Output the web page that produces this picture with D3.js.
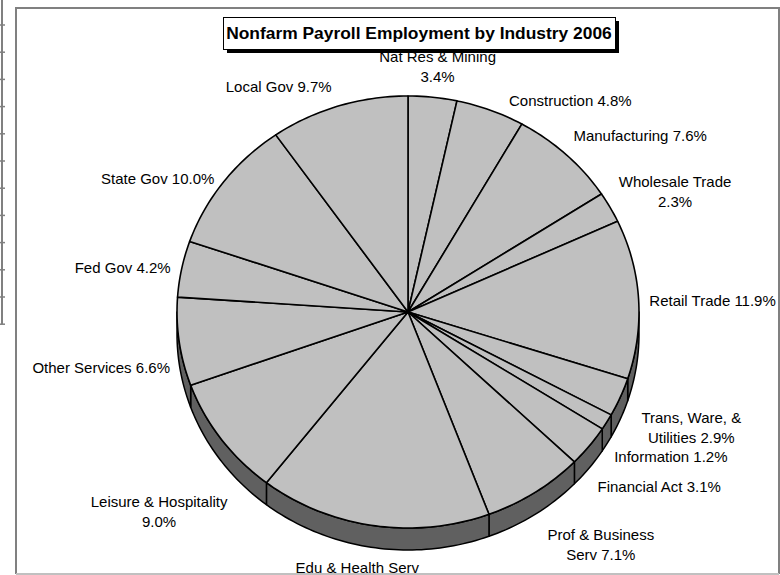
<!DOCTYPE html>
<html>
<head>
<meta charset="utf-8">
<script src="https://d3js.org/d3.v7.min.js"></script>
<style>
  body {margin: 0; background: #fff;}
  text {font-family: Arial, "Liberation Sans", sans-serif;}
</style>
</head>
<body>
<script>
var categories = ["Nat Res & Mining", "Construction", "Manufacturing", "Wholesale Trade", "Retail Trade",
  "Trans, Ware, & Utilities", "Information", "Financial Act", "Prof & Business Serv", "Edu & Health Serv",
  "Leisure & Hospitality", "Other Services", "Fed Gov", "State Gov", "Local Gov"];
var shares = [3.4, 4.8, 7.6, 2.3, 11.9, 2.9, 1.2, 3.1, 7.1, 16.2, 9.0, 6.6, 4.2, 10.0, 9.7];
var title = "Nonfarm Payroll Employment by Industry 2006";

// hand moved labels (offset from the slice edge), same as in the excel sheet
var labelNudge = [[5, -30], [80, -9], [74, -18], [65, -15], [74, 2], [71, 9], [64, 14], [70, 20],
  [66, 31], [-16, 31], [-62, 52], [-78, 5], [-59, 0], [-66, -2], [-60, -18]];

var width = 780, height = 575;
var cx = 408, cy = 312, rx = 231, ry = 216, depth = 22;
var fontSize = 15, lineH = 20, wrapW = 139.5;

var svg = d3.select("body").append("svg")
  .attr("width", width)
  .attr("height", height);

// spreadsheet row lines on the left
svg.append("line").attr("x1", 2).attr("x2", 2).attr("y1", 0).attr("y2", 324)
  .attr("stroke", "#808080").attr("stroke-width", 2);
svg.selectAll(".row").data(d3.range(12)).enter().append("line")
  .attr("class", "row")
  .attr("x1", 0).attr("x2", 5)
  .attr("y1", function(k) {return 25 + 27.2 * k;})
  .attr("y2", function(k) {return 25 + 27.2 * k;})
  .attr("stroke", "#808080").attr("stroke-width", 1.5);

// chart area border
svg.append("path").attr("d", "M16,574V8H779V574")
  .attr("fill", "none").attr("stroke", "#808080").attr("stroke-width", 2);
svg.append("line").attr("x1", 16).attr("x2", 779).attr("y1", 574).attr("y2", 574)
  .attr("stroke", "#c0c0c0").attr("stroke-width", 2);

var pie = d3.pie().sort(null).value(function(d) {return d;});
var arcs = pie(shares);
var total = d3.sum(shares);
var pct = d3.format(".1%");

function pt(a, dy) {
  return [cx + rx * Math.sin(a), cy - ry * Math.cos(a) + (dy || 0)];
}
function arcPts(a0, a1, dy) {
  var n = Math.max(2, Math.ceil((a1 - a0) / 0.02));
  return d3.range(n + 1).map(function(i) {return pt(a0 + (a1 - a0) * i / n, dy);});
}
var line = d3.line();

// side walls (only the front half shows)
arcs.forEach(function(d) {
  var s = Math.max(d.startAngle, Math.PI / 2),
      e = Math.min(d.endAngle, Math.PI * 3 / 2);
  if (e <= s) return;
  var pts = arcPts(s, e, 0).concat(arcPts(s, e, depth).reverse());
  svg.append("path")
    .attr("d", line(pts) + "Z")
    .attr("fill", "#606060")
    .attr("stroke", "#000")
    .attr("stroke-width", 1.5)
    .attr("stroke-linejoin", "round");
});

// top faces
svg.selectAll(".slice").data(arcs).enter().append("path")
  .attr("class", "slice")
  .attr("d", function(d) {
    return line([[cx, cy]].concat(arcPts(d.startAngle, d.endAngle, 0))) + "Z";
  })
  .attr("fill", "#c0c0c0")
  .attr("stroke", "#000")
  .attr("stroke-width", 1.6)
  .attr("stroke-linejoin", "round");

// labels
arcs.forEach(function(d, i) {
  var mid = (d.startAngle + d.endAngle) / 2;
  var p = pt(mid, Math.cos(mid) < 0 ? depth : 0);
  var x = p[0] + labelNudge[i][0], y = p[1] + labelNudge[i][1];
  var words = (categories[i] + " " + pct(shares[i] / total)).split(" ");

  var t = svg.append("text")
    .attr("text-anchor", "middle")
    .attr("font-size", fontSize)
    .attr("fill", "#000");
  // wrap like excel does
  var lines = [], cur = [];
  var probe = t.append("tspan");
  words.forEach(function(w) {
    var test = cur.concat([w]).join(" ");
    probe.text(test);
    if (cur.length && probe.node().getComputedTextLength() > wrapW) {
      lines.push(cur.join(" "));
      cur = [w];
    } else {
      cur.push(w);
    }
  });
  lines.push(cur.join(" "));
  probe.remove();

  var y0 = y - (lines.length - 1) * lineH / 2 + 4.5;
  lines.forEach(function(l, j) {
    t.append("tspan").attr("x", x).attr("y", y0 + j * lineH).text(l);
  });
});

// title box with shadow
svg.append("rect").attr("x", 227).attr("y", 21).attr("width", 392).attr("height", 32)
  .attr("fill", "#000");
svg.append("rect").attr("x", 223.5).attr("y", 17.5).attr("width", 392).attr("height", 32)
  .attr("fill", "#fff").attr("stroke", "#000").attr("stroke-width", 1);
svg.append("text")
  .attr("x", 419).attr("y", 39)
  .attr("text-anchor", "middle")
  .attr("font-size", 17.4)
  .attr("font-weight", "bold")
  .text(title);
</script>
</body>
</html>
